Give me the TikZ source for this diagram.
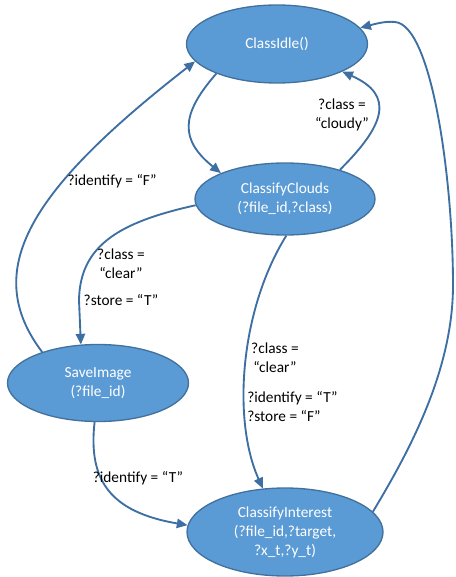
\documentclass[tikz,border=0pt]{standalone}
\usepackage{fontspec}
\setmainfont{Carlito}
\usetikzlibrary{arrows.meta,shapes.geometric}
\definecolor{nodefill}{HTML}{5B9BD5}
\definecolor{nodeline}{HTML}{41719C}
\definecolor{conncol}{HTML}{3E6FA3}
\begin{document}
\begin{tikzpicture}[x=0.75pt,y=-0.75pt,
  every node/.style={font=\fontsize{11.5}{14.25}\selectfont},
  state/.style={ellipse,draw=nodeline,line width=1pt,fill=nodefill,text=white,align=center,inner sep=0pt},
  conn/.style={draw=conncol,line width=1.4pt,-{Triangle[length=8pt,width=7pt]}},
  lbl/.style={text=black,inner sep=0pt}]
\useasboundingbox (0,0) rectangle (455,577);
\node[state,minimum width=135.75pt,minimum height=58.5pt] (idle) at (277,44) {ClassIdle()};
\node[state,minimum width=135pt,minimum height=54pt] (clouds) at (285,199) {ClassifyClouds\\(?file\_id,?class)};
\node[state,minimum width=135.75pt,minimum height=57.75pt] (save) at (98,383) {SaveImage\\(?file\_id)};
\node[state,minimum width=147pt,minimum height=66pt] (int) at (285,532) {ClassifyInterest\\(?file\_id,?target,\\?x\_t,?y\_t)};
% connectors
\draw[conn] (idle.206) .. controls (180,115) and (180,140) .. (clouds.158);
\draw[conn] (clouds.28) .. controls (385,125) and (395,95) .. (idle.-23);
\draw[conn] (int.13) .. controls (410,450) and (453,370) .. (453,285) .. controls (453,180) and (432,25) .. (395,22) .. controls (385,21) and (375,24) .. (idle.11);
\draw[conn] (clouds.184) .. controls (120,222) and (80,245) .. (79,300) -- (save.114);
\draw[conn] (save.151) .. controls (-20,270) and (30,190) .. (idle.192);
\draw[conn] (clouds.272) .. controls (240,310) and (232,420) .. (int.117);
\draw[conn] (save.265) .. controls (88,480) and (110,512) .. (int.176);
% labels
\node[lbl,align=center] (lcloudy) at (342,115) {?class =\\“cloudy”};
\node[lbl] (lidf) at (112,181) {?identify = “F”};
\node[lbl,align=center] (lstore) at (121,277) {?class =\\“clear”\\[6pt]?store = “T”};
\node[lbl,align=center] (lclear) at (275,357.5) {?class =\\“clear”};
\node[lbl,align=left,anchor=west] (lidt) at (247,407) {?identify = “T”\\?store = “F”};
\node[lbl] (lidt2) at (138,478) {?identify = “T”};
\end{tikzpicture}
\end{document}
